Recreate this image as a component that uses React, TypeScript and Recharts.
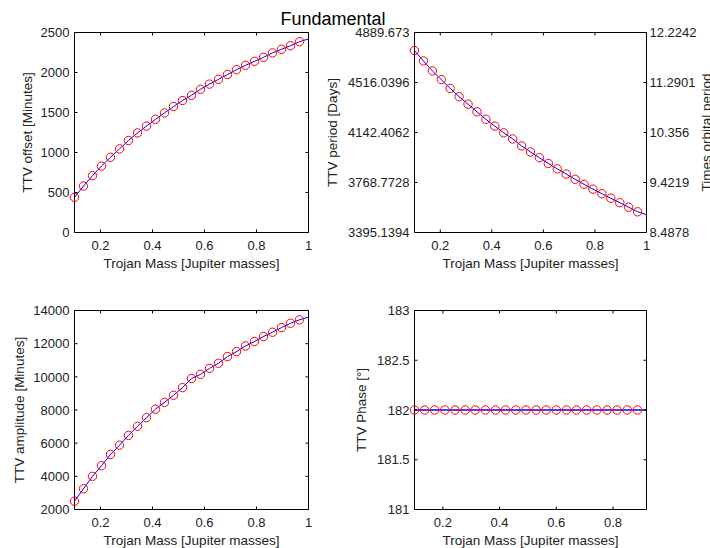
import { Line, LineChart, ReferenceArea, XAxis, YAxis } from "recharts";

const W = 710;
const H = 548;
const FONT = "'Liberation Sans', Arial, sans-serif";
const INK = "#222";

// trojan mass samples (top row and amplitude panel)
const massTop = [
  0.1, 0.1346, 0.1692, 0.2038, 0.2385, 0.2731, 0.3077, 0.3423, 0.3769, 0.4115,
  0.4462, 0.4808, 0.5154, 0.55, 0.5846, 0.6192, 0.6538, 0.6885, 0.7231, 0.7577,
  0.7923, 0.8269, 0.8615, 0.8962, 0.9308, 0.9654, 1.0,
];
// last sample only carries the curve, no circle
const markedTop = 26;

const ttvOffset = [
  440, 580, 710, 830, 940, 1045, 1150, 1245, 1330, 1415, 1495, 1575, 1650, 1715,
  1790, 1855, 1915, 1975, 2035, 2090, 2140, 2190, 2245, 2290, 2335, 2385, 2420,
];
const ttvPeriod = [
  4755, 4677, 4603, 4538, 4472, 4410, 4354, 4297, 4241, 4190, 4140, 4094, 4042,
  3997, 3954, 3911, 3871, 3832, 3793, 3755, 3719, 3685, 3651, 3618, 3584, 3550,
  3528,
];
const ttvAmplitude = [
  2500, 3250, 4000, 4640, 5320, 5880, 6470, 7020, 7540, 8050, 8460, 8890, 9350,
  9900, 10150, 10510, 10820, 11220, 11520, 11860, 12130, 12430, 12690, 12970,
  13230, 13440, 13600,
];

const massPhase = [
  0.1, 0.136, 0.171, 0.207, 0.243, 0.279, 0.314, 0.35, 0.386, 0.421, 0.457,
  0.493, 0.529, 0.564, 0.6, 0.636, 0.671, 0.707, 0.743, 0.779, 0.814, 0.85,
  0.886, 0.918,
];
const markedPhase = 23;
const ttvPhase = [
  182, 182, 182, 182, 182, 182, 182, 182, 182, 182, 182, 182, 182, 182, 182,
  182, 182, 182, 182, 182, 182, 182, 182, 182,
];

const xTicksFull = [0.2, 0.4, 0.6, 0.8, 1];
const xTicksPhase = [0.2, 0.4, 0.6, 0.8];
const offsetTicks = [0, 500, 1000, 1500, 2000, 2500];
const periodTicks = [3395.1394, 3768.7728, 4142.4062, 4516.0396, 4889.673];
const orbitTicks = ["8.4878", "9.4219", "10.356", "11.2901", "12.2242"];
const amplitudeTicks = [2000, 4000, 6000, 8000, 10000, 12000, 14000];
const phaseTicks = [181, 181.5, 182, 182.5, 183];

type Box = { left: number; top: number; right: number; bottom: number };
type Row = { m: number; v: number; mark: number | null };

function rows(xs: number[], ys: number[], marked: number): Row[] {
  return xs.map((m, i) => ({ m, v: ys[i], mark: i < marked ? ys[i] : null }));
}

type PanelProps = {
  box: Box;
  data: Row[];
  xDomain: [number, number];
  xTicks: number[];
  yDomain: [number, number];
  yTicks: number[];
  yLabel: string;
  yLabelX: number;
  rightTicks?: string[];
  rightLabel?: string;
  lineWidth?: number;
};

function Panel(p: PanelProps) {
  const { box } = p;
  const yW = 60;
  const xH = 40;
  const margin = {
    top: box.top,
    left: box.left - yW,
    right: W - box.right,
    bottom: H - box.bottom - xH,
  };
  const midX = (box.left + box.right) / 2;
  const midY = (box.top + box.bottom) / 2;

  const xTick = (props: any) => {
    const { x, payload } = props;
    return (
      <g>
        <line x1={x} x2={x} y1={box.bottom} y2={box.bottom - 3} stroke="#000" />
        <line x1={x} x2={x} y1={box.top} y2={box.top + 3} stroke="#000" />
        <text x={x} y={box.bottom + 17} textAnchor="middle" fontSize={13} fill={INK} fontFamily={FONT}>
          {String(payload.value)}
        </text>
      </g>
    );
  };

  const yTick = (props: any) => {
    const { y, payload, index } = props;
    return (
      <g>
        <line x1={box.left} x2={box.left + 3} y1={y} y2={y} stroke="#000" />
        <line x1={box.right} x2={box.right - 3} y1={y} y2={y} stroke="#000" />
        <text x={box.left - 5} y={y} dy="0.36em" textAnchor="end" fontSize={13} fill={INK} fontFamily={FONT}>
          {String(payload.value)}
        </text>
        {p.rightTicks ? (
          <text x={box.right + 3} y={y} dy="0.36em" textAnchor="start" fontSize={13} fill={INK} fontFamily={FONT}>
            {p.rightTicks[index]}
          </text>
        ) : null}
      </g>
    );
  };

  return (
    <div style={{ position: "absolute", left: 0, top: 0 }}>
      <LineChart width={W} height={H} data={p.data} margin={margin}>
        <XAxis
          type="number"
          dataKey="m"
          domain={p.xDomain}
          ticks={p.xTicks}
          height={xH}
          axisLine={false}
          tickLine={false}
          tick={xTick}
          interval={0}
          label={{
            content: () => (
              <text x={midX} y={box.bottom + 35} textAnchor="middle" fontSize={13.5} fill={INK} fontFamily={FONT}>
                Trojan Mass [Jupiter masses]
              </text>
            ),
          }}
        />
        <YAxis
          type="number"
          domain={p.yDomain}
          ticks={p.yTicks}
          width={yW}
          axisLine={false}
          tickLine={false}
          tick={yTick}
          interval={0}
          label={{
            content: () => (
              <g>
                <text
                  x={p.yLabelX}
                  y={midY}
                  transform={`rotate(-90 ${p.yLabelX} ${midY})`}
                  textAnchor="middle"
                  fontSize={13.5}
                  fill={INK}
                  fontFamily={FONT}
                >
                  {p.yLabel}
                </text>
                {p.rightLabel ? (
                  <text
                    x={711}
                    y={midY}
                    transform={`rotate(-90 711 ${midY})`}
                    textAnchor="middle"
                    fontSize={13.5}
                    fill={INK}
                    fontFamily={FONT}
                  >
                    {p.rightLabel}
                  </text>
                ) : null}
              </g>
            ),
          }}
        />
        <ReferenceArea
          x1={p.xDomain[0]}
          x2={p.xDomain[1]}
          y1={p.yDomain[0]}
          y2={p.yDomain[1]}
          fill="none"
          stroke="#000"
          strokeWidth={1}
          ifOverflow="visible"
        />
        <Line
          dataKey="mark"
          stroke="none"
          dot={{ r: 4.2, stroke: "#ff0000", strokeWidth: 1, fill: "none" }}
          activeDot={false}
          isAnimationActive={false}
        />
        <Line
          dataKey="v"
          stroke="#0000ff"
          strokeWidth={p.lineWidth ?? 1}
          dot={false}
          activeDot={false}
          type="linear"
          isAnimationActive={false}
        />
      </LineChart>
    </div>
  );
}

export default function App() {
  return (
    <div
      style={{
        position: "absolute",
        left: 0,
        top: 0,
        width: W,
        height: H,
        background: "#fff",
        overflow: "hidden",
      }}
    >
      <svg width={W} height={40} style={{ position: "absolute", left: 0, top: 0 }}>
        <text x={333} y={25} textAnchor="middle" fontSize={18} fill="#000" fontFamily={FONT}>
          Fundamental
        </text>
      </svg>
      <Panel
        box={{ left: 74.5, top: 32.5, right: 308.5, bottom: 232.5 }}
        data={rows(massTop, ttvOffset, markedTop)}
        xDomain={[0.1, 1]}
        xTicks={xTicksFull}
        yDomain={[0, 2500]}
        yTicks={offsetTicks}
        yLabel="TTV offset [Minutes]"
        yLabelX={32}
      />
      <Panel
        box={{ left: 414.5, top: 32.5, right: 646.5, bottom: 232.5 }}
        data={rows(massTop, ttvPeriod, markedTop)}
        xDomain={[0.1, 1]}
        xTicks={xTicksFull}
        yDomain={[3395.1394, 4889.673]}
        yTicks={periodTicks}
        yLabel="TTV period [Days]"
        yLabelX={337}
        rightTicks={orbitTicks}
        rightLabel="Times orbital period"
      />
      <Panel
        box={{ left: 74.5, top: 310.5, right: 308.5, bottom: 509.5 }}
        data={rows(massTop, ttvAmplitude, markedTop)}
        xDomain={[0.1, 1]}
        xTicks={xTicksFull}
        yDomain={[2000, 14000]}
        yTicks={amplitudeTicks}
        yLabel="TTV amplitude [Minutes]"
        yLabelX={24}
      />
      <Panel
        box={{ left: 414.5, top: 310.5, right: 646.5, bottom: 509.5 }}
        data={rows(massPhase, ttvPhase, markedPhase)}
        xDomain={[0.1, 0.918]}
        xTicks={xTicksPhase}
        yDomain={[181, 183]}
        yTicks={phaseTicks}
        yLabel="TTV Phase [°]"
        yLabelX={366}
        lineWidth={1.6}
      />
    </div>
  );
}
